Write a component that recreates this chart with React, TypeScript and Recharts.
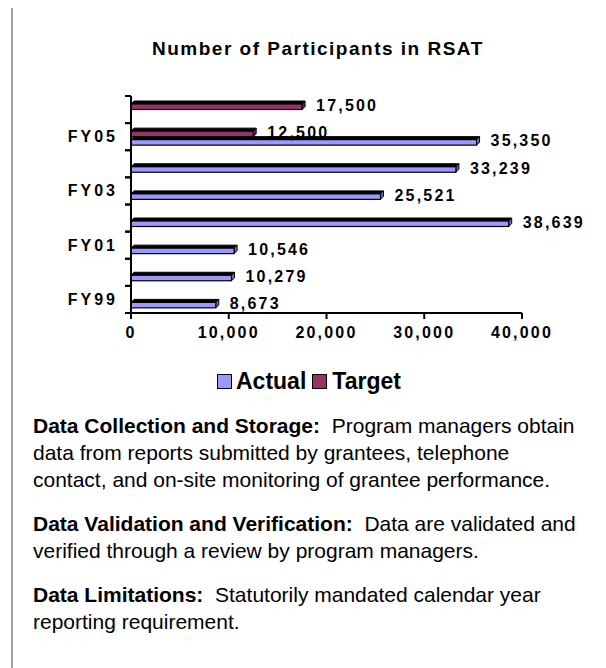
import { BarChart, Bar, XAxis, YAxis, Legend, LabelList } from "recharts";

const categories = ["FY99", "FY00", "FY01", "FY02", "FY03", "FY04", "FY05", "FY06"];
const actualValues = [8673, 10279, 10546, 38639, 25521, 33239, 35350, null];
const targetValues = [null, null, null, null, null, null, 12500, 17500];
const xTicks = [0, 10000, 20000, 30000, 40000];
const shownYLabels = ["FY99", "FY01", "FY03", "FY05"];

const ACTUAL_COLOR = "#9999ff";
const ACTUAL_SIDE = "#6b6bcc";
const TARGET_COLOR = "#993366";
const TARGET_SIDE = "#6b2447";
const FONT = '"Liberation Sans", Arial, sans-serif';

const data = categories.map((fy, i) => ({
  fy,
  actual: actualValues[i],
  target: targetValues[i],
}));

// chart geometry
const CHART_W = 598;
const CHART_H = 389;
const PLOT_TOP = 88;
const PLOT_H = 217;
const BAND = PLOT_H / categories.length;
const DEPTH = 3;

const make3DBar = (side: string) => (props: any) => {
  const { x, y, width, height, fill } = props;
  if (!width || width <= 0 || !height) return null;
  const fy = y + DEPTH;
  const fh = height - DEPTH;
  return (
    <g>
      <polygon
        points={`${x},${fy} ${x + DEPTH},${y} ${x + width + DEPTH},${y} ${x + width},${fy}`}
        fill="#000"
        stroke="#000"
        strokeWidth={1}
      />
      <polygon
        points={`${x + width},${fy} ${x + width + DEPTH},${y} ${x + width + DEPTH},${y + fh} ${x + width},${fy + fh}`}
        fill={side}
        stroke="#000"
        strokeWidth={1}
      />
      <rect x={x} y={fy} width={width} height={fh} fill={fill} stroke="#000" strokeWidth={1.2} />
    </g>
  );
};

const renderValue = (props: any) => {
  const { x, y, width, height, value } = props;
  if (value == null) return null;
  return (
    <text
      x={x + width + 14}
      y={y + height / 2}
      dominantBaseline="central"
      fontFamily={FONT}
      fontSize={16}
      fontWeight="bold"
      fill="#000"
      style={{ letterSpacing: 2.2 }}
    >
      {Number(value).toLocaleString("en-US")}
    </text>
  );
};

// category ticks sit on the band edges, labels only on every second year
const YTick = (props: any) => {
  const { x, y, payload } = props;
  const axisX = x + 13;
  const half = typeof payload.offset === "number" && payload.offset > 0 ? payload.offset : BAND / 2;
  return (
    <g>
      <line x1={axisX - 6} x2={axisX} y1={y - half} y2={y - half} stroke="#000" strokeWidth={2} />
      <line x1={axisX - 6} x2={axisX} y1={y + half} y2={y + half} stroke="#000" strokeWidth={2} />
      {shownYLabels.includes(payload.value) && (
        <text
          x={x}
          y={y}
          textAnchor="end"
          dominantBaseline="central"
          fontFamily={FONT}
          fontSize={16}
          fontWeight="bold"
          fill="#000"
          style={{ letterSpacing: 3 }}
        >
          {payload.value}
        </text>
      )}
    </g>
  );
};

const LegendBox = () => (
  <div
    style={{
      height: 24,
      display: "flex",
      alignItems: "center",
      paddingLeft: 209,
      fontFamily: FONT,
      fontWeight: "bold",
      fontSize: 23,
      color: "#000",
    }}
  >
    <span style={{ width: 13, height: 13, border: "1px solid #000", background: ACTUAL_COLOR, marginRight: 4 }} />
    <span style={{ marginRight: 6 }}>Actual</span>
    <span style={{ width: 13, height: 13, border: "1px solid #000", background: TARGET_COLOR, marginRight: 5 }} />
    <span>Target</span>
  </div>
);

const bodyText = { fontFamily: FONT, fontSize: 21, lineHeight: "27px", color: "#000", whiteSpace: "nowrap" as const };

export default function App() {
  return (
    <div style={{ position: "relative", width: 598, height: 662, marginTop: -2, overflow: "hidden", background: "#fff" }}>
      <div
        style={{
          position: "absolute",
          left: 3,
          top: 0,
          width: 700,
          height: 700,
          borderLeft: "2px solid #a3a3a3",
          borderTop: "2px solid #a3a3a3",
        }}
      />
      <div
        style={{
          position: "absolute",
          left: 144,
          top: 32,
          fontFamily: FONT,
          fontWeight: "bold",
          fontSize: 19,
          lineHeight: "22px",
          letterSpacing: 1.5,
          whiteSpace: "nowrap",
        }}
      >
        Number of Participants in RSAT
      </div>
      <div style={{ position: "absolute", left: 0, top: 2 }}>
        <BarChart
          width={CHART_W}
          height={CHART_H}
          data={data}
          layout="vertical"
          margin={{ top: PLOT_TOP, right: 84, bottom: 4, left: 53 }}
          barGap={0}
          barSize={8.5}
        >
          <XAxis
            type="number"
            domain={[0, 40000]}
            ticks={xTicks}
            interval={0}
            height={56}
            tickSize={6}
            tickMargin={8}
            axisLine={{ stroke: "#000", strokeWidth: 2 }}
            tickLine={{ stroke: "#000", strokeWidth: 2 }}
            tickFormatter={(v: number) => v.toLocaleString("en-US")}
            tick={{ fill: "#000", fontSize: 16, fontWeight: "bold", fontFamily: FONT, style: { letterSpacing: 2.2 } }}
          />
          <YAxis
            type="category"
            dataKey="fy"
            reversed
            width={70}
            interval={0}
            tickSize={6}
            tickMargin={7}
            axisLine={{ stroke: "#000", strokeWidth: 2 }}
            tickLine={false}
            tick={<YTick />}
          />
          <Legend verticalAlign="bottom" height={24} wrapperStyle={{ left: 0, width: CHART_W, bottom: 4 }} content={<LegendBox />} />
          <Bar dataKey="target" name="Target" fill={TARGET_COLOR} shape={make3DBar(TARGET_SIDE)} isAnimationActive={false}>
            <LabelList dataKey="target" content={renderValue} />
          </Bar>
          <Bar dataKey="actual" name="Actual" fill={ACTUAL_COLOR} shape={make3DBar(ACTUAL_SIDE)} isAnimationActive={false}>
            <LabelList dataKey="actual" content={renderValue} />
          </Bar>
        </BarChart>
      </div>
      <div style={{ position: "absolute", left: 25, top: 406 }}>
        <div style={bodyText}>
          <b>Data Collection and Storage:</b>&nbsp; Program managers obtain
          <br />
          data from reports submitted by grantees, telephone
          <br />
          contact, and on-site monitoring of grantee performance.
        </div>
        <div style={{ ...bodyText, marginTop: 17 }}>
          <b>Data Validation and Verification:</b>&nbsp; Data are validated and
          <br />
          verified through a review by program managers.
        </div>
        <div style={{ ...bodyText, marginTop: 17 }}>
          <b>Data Limitations:</b>&nbsp; Statutorily mandated calendar year
          <br />
          reporting requirement.
        </div>
      </div>
    </div>
  );
}
